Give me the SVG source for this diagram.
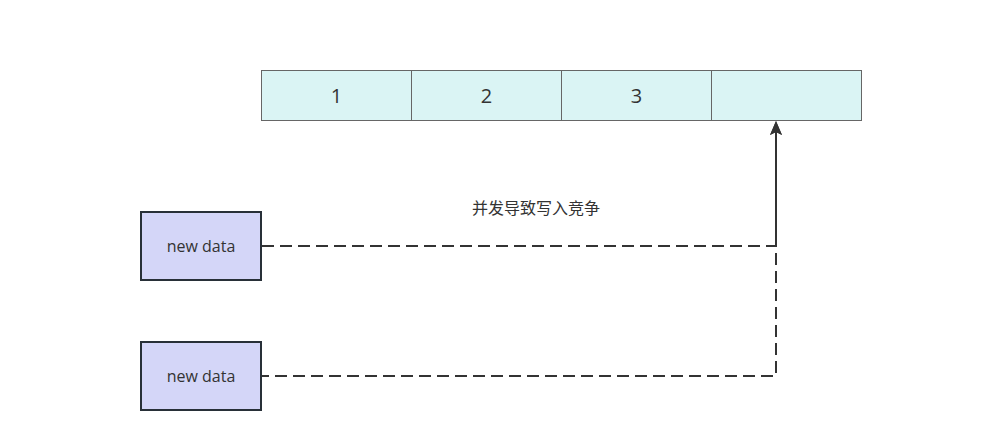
<svg xmlns="http://www.w3.org/2000/svg" width="982" height="440" viewBox="0 0 982 440">
<defs>
<style>
.cell{fill:#daf4f4;stroke:#666666;stroke-width:1}
.box{fill:#d4d6f8;stroke:#283038;stroke-width:2}
.t{font-family:"Open Sans","Liberation Sans","Noto Sans CJK SC",sans-serif;fill:#333333;text-anchor:middle;dominant-baseline:central}
.edge{fill:none;stroke:#333333;stroke-width:2;stroke-dasharray:12 6}
</style>
<marker id="arr" viewBox="0 0 14 12" refX="9" refY="6" markerWidth="14" markerHeight="12" orient="auto" markerUnits="userSpaceOnUse">
<path d="M0,0 L14,6 L0,12 L3,6 Z" fill="#333333"/>
</marker>
</defs>
<rect width="982" height="440" fill="#ffffff"/>
<g id="cell1"><rect class="cell" x="261.5" y="70.5" width="150" height="50"/><text class="t" x="336.5" y="95.5" font-size="20">1</text></g>
<g id="cell2"><rect class="cell" x="411.5" y="70.5" width="150" height="50"/><text class="t" x="486.5" y="95.5" font-size="20">2</text></g>
<g id="cell3"><rect class="cell" x="561.5" y="70.5" width="150" height="50"/><text class="t" x="636.5" y="95.5" font-size="20">3</text></g>
<g id="cell4"><rect class="cell" x="711.5" y="70.5" width="150" height="50"/></g>
<g id="data1"><rect class="box" x="141" y="212" width="120" height="68"/><text class="t" x="201" y="246" font-size="16">new data</text></g>
<g id="data2"><rect class="box" x="141" y="342" width="120" height="68"/><text class="t" x="201" y="376" font-size="16">new data</text></g>
<g id="connectors">
<path class="edge" d="M262,246 L776,246 L776,126" marker-end="url(#arr)"/>
<path class="edge" style="stroke-dashoffset:5" d="M262,376 L776,376 L776,126" marker-end="url(#arr)"/>
<text class="t" x="536" y="208" font-size="16">并发导致写入竞争</text>
</g>
</svg>
